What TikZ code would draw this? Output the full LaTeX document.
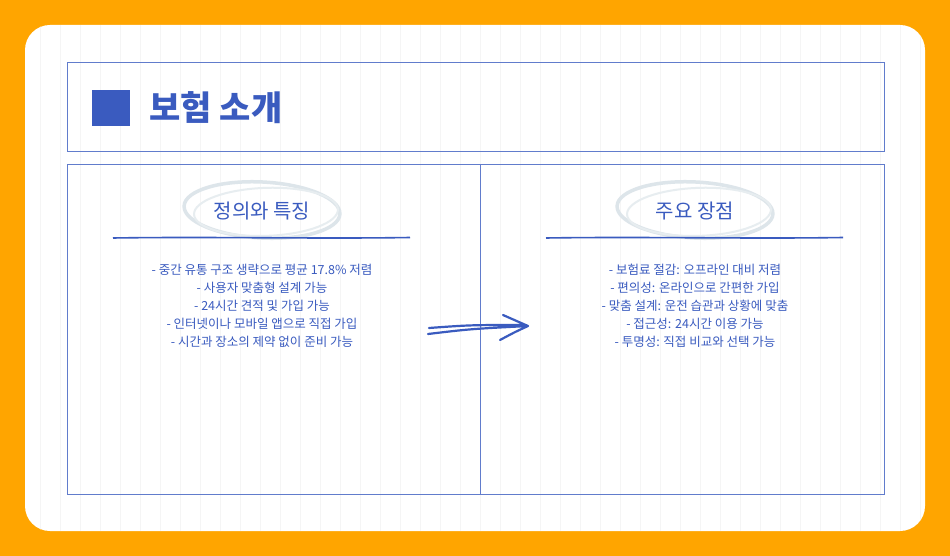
\documentclass[tikz,border=0pt]{standalone}
\usepackage{fontspec}
\setmainfont{Noto Sans CJK KR}
\definecolor{bl}{HTML}{3A5BBF}
\definecolor{og}{HTML}{FFA500}
\definecolor{ring}{HTML}{DDE5EA}
\tikzset{panel/.style={draw=bl!80,line width=0.8pt},
 bullet/.style={text=bl,font=\fontsize{12.5}{18}\selectfont,align=center},
 head/.style={text=bl,font=\fontsize{20}{24}\selectfont}}
\begin{document}
\begin{tikzpicture}[x=1pt,y=-1pt]
\fill[og] (0,0) rectangle (950,556);
\fill[white,rounded corners=25] (25,25) rectangle (925,531);
\begin{scope}
\clip[rounded corners=25] (25,25) rectangle (925,531);
\draw[black!4,step=20] (25,25) grid (925,531);
\end{scope}
\draw[panel] (67,62) rectangle (884,151);
\fill[bl] (92,90) rectangle (130,126);
\node[anchor=west,text=bl,font=\fontsize{34}{40}\selectfont\bfseries] (title) at (146,108) {보험 소개};
\draw[panel] (67,164) rectangle (480,494);
\draw[panel] (480,164) rectangle (884,494);
\foreach \cx/\nm in {262/a,695/b}{
 \draw[ring,line width=3.5pt,rotate around={-3:(\cx,210)}] (\cx,210) ellipse (78 and 28);
 \draw[ring!70,line width=2pt,rotate around={2:(\cx,212)}] (\cx+4,212) ellipse (72 and 24);
 \draw[bl,line width=1.6pt] (\cx-149,238) .. controls (\cx-50,236.5) and (\cx+50,239) .. (\cx+148,237.5);
}
\node[head] (ha) at (262,211) {정의와 특징};
\node[head] (hb) at (695,211) {주요 장점};
\node[bullet,anchor=north] (la) at (262,261) {- 중간 유통 구조 생략으로 평균 17.8\% 저렴\\- 사용자 맞춤형 설계 가능\\- 24시간 견적 및 가입 가능\\- 인터넷이나 모바일 앱으로 직접 가입\\- 시간과 장소의 제약 없이 준비 가능};
\node[bullet,anchor=north] (lb) at (695,261) {- 보험료 절감: 오프라인 대비 저렴\\- 편의성: 온라인으로 간편한 가입\\- 맞춤 설계: 운전 습관과 상황에 맞춤\\- 접근성: 24시간 이용 가능\\- 투명성: 직접 비교와 선택 가능};
\coordinate (s1) at (428,334);
\coordinate (e1) at (528,326);
\draw[bl,line width=2.2pt,line cap=round,line join=round] (s1) .. controls (470,329) .. (e1) (429,328) .. controls (470,325) .. (524,325)
 (503,315) .. controls (515,320) .. (e1) .. controls (515,332) .. (500,340);
\end{tikzpicture}
\end{document}
